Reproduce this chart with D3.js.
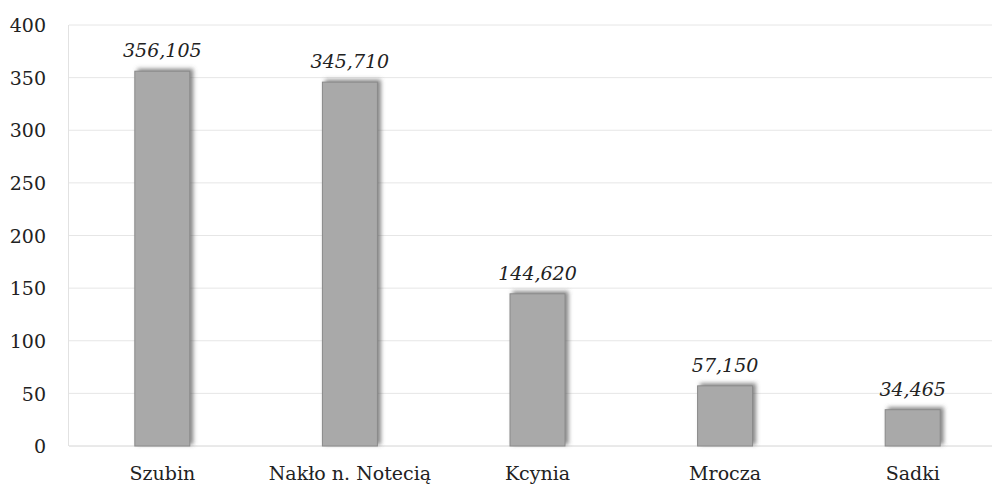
<!DOCTYPE html>
<html><head><meta charset="utf-8">
<script src="https://cdn.jsdelivr.net/npm/d3@7"></script>
<style>body{margin:0;background:#fff}svg{display:block}</style>
</head><body>
<script>
const categories = ["Szubin", "Nakło n. Notecią", "Kcynia", "Mrocza", "Sadki"];
const values = [356.105, 345.710, 144.620, 57.150, 34.465];
const labels = ["356,105", "345,710", "144,620", "57,150", "34,465"];
const yTicks = [0, 50, 100, 150, 200, 250, 300, 350, 400];

const W = 992, H = 484;
const svg = d3.select("body").append("svg").attr("width", W).attr("height", H);
const defs = svg.append("defs");
const f = defs.append("filter").attr("id", "sh").attr("x", "-30%").attr("y", "-30%").attr("width", "160%").attr("height", "160%");
f.append("feDropShadow").attr("dx", 3).attr("dy", -2).attr("stdDeviation", 2).attr("flood-color", "#555").attr("flood-opacity", 0.7);

const x = d3.scaleBand().domain(categories).range([69, 1006]).paddingInner(0.705).paddingOuter(0.35);
const y = d3.scaleLinear().domain([0, 400]).range([446, 25]);

const font = "'DejaVu Serif', 'Liberation Serif', serif";
const fs = 19;

svg.append("g").selectAll("line").data(yTicks).join("line")
  .attr("x1", 69).attr("x2", 992)
  .attr("y1", d => y(d)).attr("y2", d => y(d))
  .attr("stroke", d => d === 0 ? "#d4d4d4" : "#e6e6e6").attr("stroke-width", 1);

svg.append("line").attr("x1", 68.5).attr("x2", 68.5).attr("y1", y(400)).attr("y2", y(0))
  .attr("stroke", "#e2e2e2").attr("stroke-width", 1);

const yAxis = d3.axisLeft(y).tickValues(yTicks).tickSize(0).tickPadding(0);
const gy = svg.append("g").attr("transform", "translate(46,0)").call(yAxis);
gy.select(".domain").remove();
gy.selectAll("text").attr("font-family", font).attr("font-size", fs).attr("fill", "#222")
  .attr("text-anchor", "end").attr("dy", "0.35em");

const bw = 55;
svg.append("g").selectAll("rect").data(values).join("rect")
  .attr("x", (d, i) => x(categories[i]) + x.bandwidth() / 2 - bw / 2)
  .attr("width", bw)
  .attr("y", d => y(d))
  .attr("height", d => y(0) - y(d))
  .attr("fill", "#a9a9a9").attr("stroke", "#8a8a8a").attr("stroke-width", 1)
  .attr("filter", "url(#sh)");

svg.append("g").selectAll("text").data(labels).join("text")
  .attr("x", (d, i) => x(categories[i]) + x.bandwidth() / 2)
  .attr("y", (d, i) => y(values[i]) - 14)
  .attr("text-anchor", "middle").attr("font-family", font).attr("font-style", "italic")
  .attr("font-size", fs).attr("fill", "#222").text(d => d);

const xAxis = d3.axisBottom(x).tickSize(0).tickPadding(0);
const gx = svg.append("g").attr("transform", "translate(0,473)").call(xAxis);
gx.select(".domain").remove();
gx.selectAll("text").attr("font-family", font).attr("font-size", fs).attr("fill", "#222").attr("dy", "0.35em");
</script>
</body></html>
